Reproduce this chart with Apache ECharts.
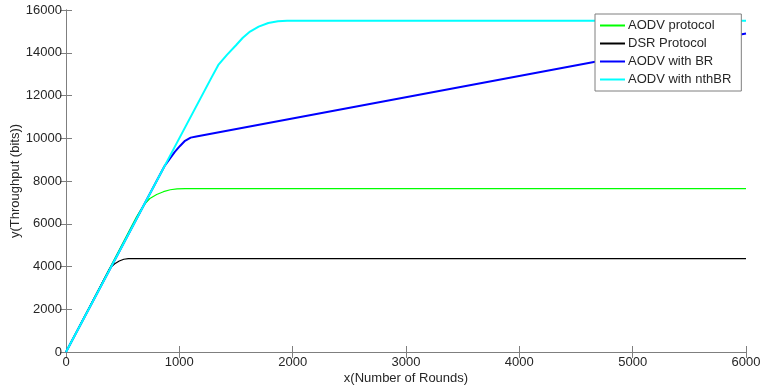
<!DOCTYPE html>
<html>
<head>
<meta charset="utf-8">
<script src="https://cdn.jsdelivr.net/npm/echarts@6/dist/echarts.min.js"></script>
<style>html,body{margin:0;padding:0;background:#fff}#c{width:764px;height:391px}</style>
</head>
<body>
<div id="c"></div>
<script>
var seriesNames = ['AODV protocol', 'DSR Protocol', 'AODV with BR', 'AODV with nthBR'];
var aodvData = [[0,0],[620,6300],[660,6650],[700,6950],[740,7180],[800,7370],[860,7500],[920,7590],[980,7630],[1050,7640],[6000,7640]];
var dsrData = [[0,0],[380,3850],[400,3990],[430,4130],[470,4260],[510,4340],[550,4370],[6000,4370]];
var brData = [[0,0],[830,8300],[870,8700],[918,9060],[960,9360],[1006,9640],[1050,9880],[1100,10030],[1150,10080],[6000,14900]];
var nthbrData = [[0,0],[1280,12800],[1344,13430],[1420,13900],[1500,14350],[1560,14700],[1624,14990],[1700,15220],[1785,15390],[1870,15470],[1950,15500],[6000,15500]];
var xTicks = {min: 0, max: 6000, interval: 1000};
var yTicks = {min: 0, max: 16000, interval: 2000};

var axisColor = '#7f7f7f';
var textColor = '#262626';
var font = 'Liberation Sans, Arial, sans-serif';

var chart = echarts.init(document.getElementById('c'));
function mk(name, data, color, width) {
  return {name: name, type: 'line', data: data, symbol: 'none', showSymbol: false,
    lineStyle: {color: color, width: width}, itemStyle: {color: color}, animation: false, z: 3};
}
function plain(v) { return String(v); }
chart.setOption({
  animation: false,
  backgroundColor: '#fff',
  grid: {left: 66, right: 18, top: 10, bottom: 39, containLabel: false, outerBoundsMode: 'none'},
  legend: {
    orient: 'vertical', left: 595, top: 14,
    data: seriesNames.map(function (n) { return {name: n, icon: 'rect'}; }),
    backgroundColor: '#fff', borderColor: axisColor, borderWidth: 1, borderRadius: 0,
    padding: [4, 10, 4, 5], itemGap: 3, itemWidth: 25, itemHeight: 2,
    textStyle: {fontFamily: font, fontSize: 13, color: textColor, lineHeight: 15, padding: [0, 0, 0, -2]}
  },
  xAxis: [{
    type: 'value', min: xTicks.min, max: xTicks.max, interval: xTicks.interval,
    name: 'x(Number of Rounds)', nameLocation: 'middle', nameGap: 20, nameMoveOverlap: false,
    nameTextStyle: {fontFamily: font, fontSize: 13, color: textColor},
    axisLine: {show: true, lineStyle: {color: axisColor}},
    axisTick: {show: true, inside: true, length: 6, lineStyle: {color: axisColor}},
    axisLabel: {fontFamily: font, fontSize: 13, color: textColor, margin: 4, formatter: plain},
    splitLine: {show: false}
  }, {
    type: 'value', position: 'top', min: xTicks.min, max: xTicks.max, interval: xTicks.interval,
    axisLine: {show: true, lineStyle: {color: axisColor}},
    axisTick: {show: true, inside: true, length: 6, lineStyle: {color: axisColor}},
    axisLabel: {show: false}, splitLine: {show: false}
  }],
  yAxis: [{
    type: 'value', min: yTicks.min, max: yTicks.max, interval: yTicks.interval,
    name: 'y(Throughput (bits))', nameLocation: 'middle', nameGap: 44, nameMoveOverlap: false,
    nameTextStyle: {fontFamily: font, fontSize: 13, color: textColor},
    axisLine: {show: true, lineStyle: {color: axisColor}},
    axisTick: {show: true, inside: true, length: 6, lineStyle: {color: axisColor}},
    axisLabel: {fontFamily: font, fontSize: 13, color: textColor, margin: 4, formatter: plain},
    splitLine: {show: false}
  }, {
    type: 'value', position: 'right', min: yTicks.min, max: yTicks.max, interval: yTicks.interval,
    axisLine: {show: true, lineStyle: {color: axisColor}},
    axisTick: {show: true, inside: true, length: 6, lineStyle: {color: axisColor}},
    axisLabel: {show: false}, splitLine: {show: false}
  }],
  series: [
    mk(seriesNames[0], aodvData, '#00ff00', 1.2),
    mk(seriesNames[1], dsrData, '#000000', 1.2),
    mk(seriesNames[2], brData, '#0000ff', 2),
    mk(seriesNames[3], nthbrData, '#00ffff', 2)
  ]
});
</script>
</body>
</html>
